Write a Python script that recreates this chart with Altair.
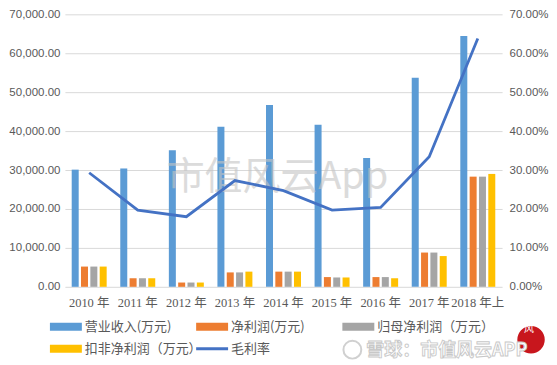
import altair as alt
import pandas as pd

years = ["2010 年", "2011 年", "2012 年", "2013 年", "2014 年", "2015 年", "2016 年", "2017 年", "2018 年上"]
revenue = [30100, 30400, 35100, 41100, 46700, 41600, 33100, 53700, 64400]
net_profit = [5200, 2200, 1100, 3700, 3900, 2500, 2500, 8800, 28300]
parent_profit = [5200, 2200, 1100, 3700, 3900, 2400, 2500, 8800, 28300]
deducted_profit = [5200, 2200, 1100, 3900, 3900, 2400, 2200, 7900, 29000]
gross_margin = [0.293, 0.197, 0.180, 0.273, 0.247, 0.197, 0.204, 0.334, 0.638]

series_names = ["营业收入(万元)", "净利润(万元)", "归母净利润（万元）", "扣非净利润（万元）"]
line_name = "毛利率"
colors = ["#5B9BD5", "#ED7D31", "#A5A5A5", "#FFC000"]
line_color = "#4472C4"

left_ticks = [0, 10000, 20000, 30000, 40000, 50000, 60000, 70000]
right_ticks = [0, 0.1, 0.2, 0.3, 0.4, 0.5, 0.6, 0.7]

FONT = "Liberation Sans, Noto Sans CJK SC"
SERIF = "Liberation Serif, Noto Sans CJK SC"
LABEL_COLOR = "#595959"

rows = []
for name, vals in zip(series_names, [revenue, net_profit, parent_profit, deducted_profit]):
    for y, v in zip(years, vals):
        rows.append({"year": y, "series": name, "value": v})
bar_df = pd.DataFrame(rows)
line_df = pd.DataFrame({"year": years, "margin": gross_margin})

x_enc = alt.X(
    "year:N", sort=years,
    scale=alt.Scale(paddingInner=0.28, paddingOuter=0.14),
    axis=alt.Axis(title=None, labelAngle=0, ticks=False, domain=False,
                  labelFontSize=12.5, labelColor=LABEL_COLOR, labelPadding=10, labelFont=SERIF),
)

bars = alt.Chart(bar_df).mark_bar().encode(
    x=x_enc,
    xOffset=alt.XOffset("series:N", sort=series_names, scale=alt.Scale(paddingInner=0.25)),
    y=alt.Y("value:Q", scale=alt.Scale(domain=[0, 70000]),
            axis=alt.Axis(values=left_ticks, format=",.2f", title=None, grid=True,
                          gridColor="#D9D9D9", domain=False, ticks=False,
                          labelColor=LABEL_COLOR, labelFontSize=11.5, labelPadding=5, labelFont=FONT)),
    color=alt.Color("series:N", scale=alt.Scale(domain=series_names, range=colors), legend=None),
)

line = alt.Chart(line_df).mark_line(color=line_color, strokeWidth=2.8).encode(
    x=alt.X("year:N", sort=years),
    y=alt.Y("margin:Q", scale=alt.Scale(domain=[0, 0.7]),
            axis=alt.Axis(orient="right", values=right_ticks, format=".2%", title=None, grid=False,
                          domain=False, ticks=False, labelColor=LABEL_COLOR, labelFontSize=11.5,
                          labelPadding=7, labelFont=FONT)),
)

wm = alt.Chart(pd.DataFrame({"t": ["市值风云App"]})).mark_text(
    fontSize=38, color="#C4C4C4", font="Noto Sans CJK SC", opacity=0.6
).encode(text="t:N", x=alt.value(213), y=alt.value(164))

main = alt.layer(bars, wm, line).resolve_scale(y="independent").properties(width=438, height=273)

rect_path = "M-1,-0.25 L1,-0.25 L1,0.25 L-1,0.25 Z"
line_path = "M-1,-0.09 L1,-0.09 L1,0.09 L-1,0.09 Z"

leg_df = pd.DataFrame({
    "label": [series_names[0], series_names[1], series_names[2], series_names[3], line_name],
    "col": [0, 1, 2, 0, 1],
    "row": [0, 0, 0, 1, 1],
    "kind": ["bar", "bar", "bar", "bar", "line"],
    "color": [colors[0], colors[1], colors[2], colors[3], line_color],
})
lx = alt.X("col:Q", scale=alt.Scale(domain=[-0.0068, 3.297]), axis=None)
ly = alt.Y("row:Q", scale=alt.Scale(domain=[-0.5, 1.318], reverse=True), axis=None)
sym = alt.Chart(leg_df).mark_point(filled=True, size=1024, opacity=1, strokeWidth=0).encode(
    x=lx, y=ly,
    shape=alt.Shape("kind:N", scale=alt.Scale(domain=["bar", "line"], range=[rect_path, line_path]), legend=None),
    color=alt.Color("color:N", scale=None),
)
txt = alt.Chart(leg_df).mark_text(align="left", dx=19, fontSize=13, color=LABEL_COLOR,
                                   font="Noto Sans CJK SC").encode(x=lx, y=ly, text="label:N")

icon = alt.Chart(pd.DataFrame({"t": ["x"]})).mark_point(
    filled=False, size=320, color="#D0D0D0", strokeWidth=2, shape="circle", opacity=1
).encode(x=alt.value(288), y=alt.value(34))
logo = alt.Chart(pd.DataFrame({"t": ["风"]})).mark_point(
    filled=True, size=755, color="#C8161D", opacity=1, shape="circle"
).encode(x=alt.value(467), y=alt.value(24))
logo_txt = alt.Chart(pd.DataFrame({"t": ["风"]})).mark_text(
    fontSize=10, color="white", font="Noto Sans CJK SC"
).encode(text="t:N", x=alt.value(465), y=alt.value(13))
wm2 = alt.Chart(pd.DataFrame({"t": ["雪球：市值风云APP"]})).mark_text(
    fontSize=18, color="white", stroke="#C8C8C8", strokeWidth=0.9, font="Noto Sans CJK SC",
    align="left", fontWeight="bold"
).encode(text="t:N", x=alt.value(302), y=alt.value(35))

legend_chart = alt.layer(icon, logo, logo_txt, wm2, sym, txt).properties(width=484, height=40)

chart = alt.vconcat(main, legend_chart, spacing=6).configure(
    font=FONT, padding={"left": 0, "right": 0, "top": 0, "bottom": 0}
).configure_view(stroke=None)

chart.save("out.html", embed_options={"renderer": "svg", "actions": False})
